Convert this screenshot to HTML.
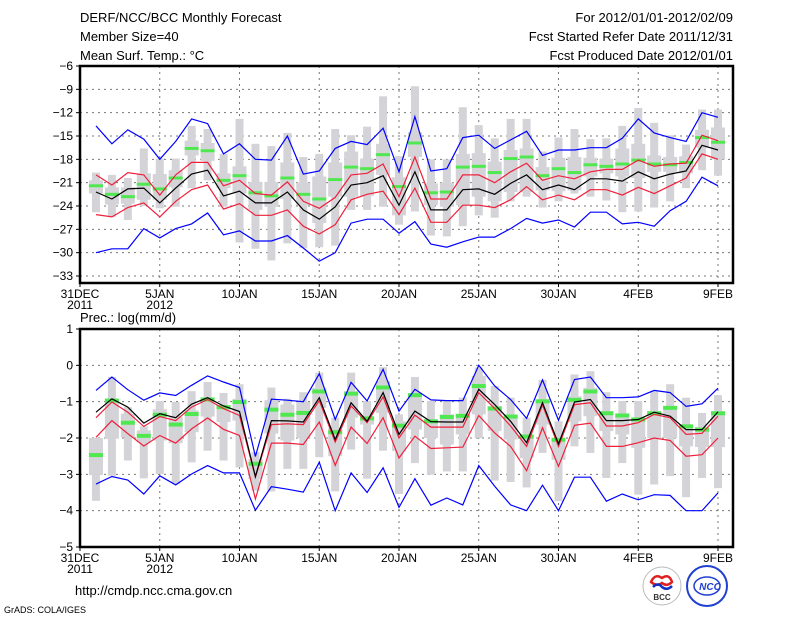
<!DOCTYPE html>
<html><head><meta charset="utf-8"><style>
html,body{margin:0;padding:0;background:#fff;}
svg{display:block;font-family:"Liberation Sans",sans-serif;}
</style></head><body>
<svg id="chart" width="800" height="618" viewBox="0 0 800 618" xmlns="http://www.w3.org/2000/svg">
<rect x="0" y="0" width="800" height="618" fill="#fff"/>
<g font-size="13" fill="#000">
<text x="80" y="22">DERF/NCC/BCC Monthly Forecast</text>
<text x="80" y="41">Member Size=40</text>
<text x="80" y="60">Mean Surf. Temp.: °C</text>
<text x="733" y="22" text-anchor="end">For 2012/01/01-2012/02/09</text>
<text x="733" y="41" text-anchor="end">Fcst Started Refer Date 2011/12/31</text>
<text x="733" y="60" text-anchor="end">Fcst Produced Date 2012/01/01</text>
<text x="80" y="322">Prec.: log(mm/d)</text>
</g>
<g id="top"></g>
<g id="bot"></g>
<text x="75" y="595" font-size="13">http://cmdp.ncc.cma.gov.cn</text>
<text x="4" y="613" font-size="9">GrADS: COLA/IGES</text>
<g>
<circle cx="662" cy="586" r="19" fill="#fff" stroke="#bbb" stroke-width="1"/>
<path d="M651 582 q4 -9 11 -4 q7 -5 10 4 q-5 5 -10 1 q-5 4 -11 -1z" fill="none" stroke="#e02020" stroke-width="2.5"/>
<path d="M653 587 q5 -5 9 0 q5 4 10 -1" fill="none" stroke="#1030c0" stroke-width="2.5"/>
<text x="662" y="600" font-size="8" text-anchor="middle" font-weight="bold" fill="#333">BCC</text>
</g>
<g>
<circle cx="707" cy="586" r="20" fill="#fff" stroke="#2040d0" stroke-width="2"/>
<ellipse cx="707" cy="586" rx="13" ry="9" fill="none" stroke="#2040d0" stroke-width="1.5"/>
<text x="710" y="590" font-size="10" text-anchor="middle" font-weight="bold" font-style="italic" fill="#2040d0">NCC</text>
</g>
</svg>
<script>
// ===== Temperature panel data (day 1 = Jan 1 ... day 40 = Feb 9) =====
const tBlueHi=[-13.7,-16.0,-14.2,-15.4,-18.0,-15.7,-12.8,-13.4,-17.3,-16.0,-18.0,-18.1,-15.0,-19.9,-19.5,-16.6,-15.7,-16.1,-14.0,-19.6,-12.5,-19.5,-19.2,-15.2,-14.9,-16.6,-15.5,-14.4,-17.5,-16.8,-16.8,-16.5,-16.5,-15.3,-12.8,-14.6,-15.2,-15.7,-12.0,-12.6];
const tBlueLo=[-30.0,-29.5,-29.5,-26.9,-28.1,-26.9,-26.3,-24.9,-27.7,-27.2,-28.5,-28.5,-27.8,-29.4,-31.1,-30.0,-26.2,-25.7,-25.7,-27.5,-26.0,-28.9,-29.3,-28.6,-28.0,-28.0,-26.9,-25.6,-26.2,-25.8,-26.7,-24.8,-24.8,-26.3,-26.1,-26.6,-24.6,-23.4,-20.3,-21.4];
const tRedHi=[-20.0,-21.3,-19.7,-20.0,-22.6,-20.0,-18.4,-18.4,-21.4,-20.7,-22.4,-22.6,-20.9,-23.4,-24.3,-22.9,-20.0,-19.8,-18.6,-22.8,-17.7,-23.1,-23.1,-20.0,-20.0,-21.0,-19.6,-18.5,-20.7,-20.1,-20.5,-19.6,-19.3,-19.3,-18.1,-18.9,-18.6,-18.5,-14.9,-15.6];
const tRedLo=[-25.1,-25.4,-24.2,-23.6,-25.4,-23.4,-21.9,-21.3,-24.4,-23.7,-25.2,-25.2,-24.5,-26.6,-27.6,-26.4,-23.2,-22.5,-22.1,-25.1,-21.7,-26.1,-26.1,-23.9,-23.9,-24.2,-23.2,-21.5,-23.2,-22.6,-23.2,-21.9,-21.9,-22.6,-21.6,-22.4,-21.4,-20.4,-17.3,-18.0];
const tMean=[-22.2,-23.1,-21.8,-21.7,-23.6,-21.7,-19.9,-19.4,-22.7,-22.1,-23.6,-23.6,-22.2,-24.5,-25.7,-24.1,-21.3,-21.0,-20.1,-23.9,-19.6,-24.5,-24.5,-21.9,-21.8,-22.5,-21.1,-20.0,-21.9,-21.3,-21.9,-20.5,-20.5,-20.8,-19.6,-20.5,-19.9,-19.5,-16.2,-16.8];
const tMedian=[-21.4,-22.5,-22.8,-21.2,-21.8,-20.4,-16.6,-16.9,-20.7,-20.1,-22.3,-22.7,-20.4,-22.5,-23.1,-20.6,-19.0,-19.2,-17.4,-21.5,-15.9,-22.3,-22.2,-19.0,-18.9,-19.7,-17.9,-17.7,-20.1,-19.2,-19.7,-18.7,-18.9,-18.6,-18.1,-18.6,-18.7,-18.4,-15.2,-15.8];
const tBoxHi=[-20.7,-21.6,-21.6,-19.8,-19.9,-19.4,-15.6,-15.9,-19.8,-18.9,-20.9,-20.9,-18.4,-21.0,-20.2,-18.4,-17.0,-17.9,-16.0,-20.3,-14.5,-21.1,-21.0,-17.3,-17.2,-18.3,-16.8,-16.6,-19.0,-17.8,-17.7,-17.8,-17.9,-16.6,-16.0,-17.5,-17.7,-17.6,-14.2,-13.9];
const tBoxLo=[-22.4,-23.8,-23.7,-23.2,-23.2,-21.6,-17.5,-18.2,-21.7,-22.4,-24.5,-24.1,-23.1,-23.9,-26.2,-22.8,-22.8,-22.7,-20.0,-25.2,-17.7,-23.9,-24.1,-23.9,-22.8,-23.4,-22.2,-22.2,-22.0,-22.1,-22.0,-20.2,-19.8,-20.2,-20.4,-19.6,-19.6,-19.8,-16.5,-18.0];
const tWhHi=[-19.7,-20.0,-20.4,-16.6,-17.9,-17.9,-13.7,-14.1,-17.3,-12.8,-16.0,-16.3,-14.6,-17.7,-17.3,-14.1,-14.9,-13.8,-9.9,-17.6,-8.6,-18.0,-18.0,-11.3,-13.6,-15.3,-12.8,-12.8,-17.0,-15.2,-14.1,-15.4,-15.3,-13.7,-11.4,-13.3,-14.9,-16.1,-11.6,-11.6];
const tWhLo=[-24.8,-25.4,-25.8,-24.0,-24.3,-24.1,-21.7,-20.7,-24.1,-28.7,-29.5,-31.0,-28.8,-29.4,-29.3,-29.1,-24.5,-24.5,-24.1,-26.4,-24.7,-27.8,-27.9,-26.6,-25.2,-25.5,-23.4,-22.8,-24.2,-23.4,-22.4,-22.8,-23.3,-24.8,-24.7,-24.2,-23.4,-21.7,-19.4,-20.1];
const tTicks=[-6,-9,-12,-15,-18,-21,-24,-27,-30,-33];

// ===== Precipitation panel data =====
const pBlueHi=[-0.69,-0.32,-0.67,-0.96,-0.76,-0.83,-0.55,-0.29,-0.46,-0.61,-2.51,-0.93,-0.96,-1.0,-0.23,-1.49,-0.47,-0.98,-0.11,-1.26,-0.66,-0.95,-0.97,-0.97,0.0,-0.57,-0.94,-1.46,-0.40,-1.51,-0.39,-0.32,-0.89,-0.89,-0.87,-0.69,-0.75,-1.13,-1.06,-0.63];
const pBlueLo=[-3.27,-3.06,-3.16,-3.54,-3.04,-3.29,-2.99,-2.76,-2.96,-2.96,-3.99,-3.34,-3.41,-3.49,-2.67,-4.0,-2.96,-3.5,-2.82,-3.91,-3.12,-3.85,-3.65,-3.84,-2.76,-3.33,-3.84,-4.0,-3.3,-4.0,-3.08,-3.08,-3.74,-3.54,-3.70,-3.56,-3.58,-4.0,-4.0,-3.51];
const pRedHi=[-1.44,-1.01,-1.29,-1.68,-1.41,-1.52,-1.15,-0.94,-1.19,-1.38,-3.08,-1.63,-1.61,-1.63,-0.97,-2.11,-1.12,-1.58,-0.87,-2.0,-1.37,-1.70,-1.70,-1.70,-0.75,-1.19,-1.67,-2.23,-1.09,-2.23,-1.08,-1.03,-1.67,-1.67,-1.58,-1.35,-1.44,-1.90,-1.87,-1.40];
const pRedLo=[-1.98,-1.52,-1.88,-2.22,-1.93,-2.14,-1.75,-1.45,-1.76,-1.93,-3.68,-2.14,-2.14,-2.18,-1.56,-2.75,-1.70,-2.15,-1.44,-2.55,-1.95,-2.29,-2.27,-2.25,-1.38,-1.86,-2.23,-2.9,-1.72,-2.78,-1.65,-1.59,-2.23,-2.23,-2.13,-2.0,-2.07,-2.50,-2.46,-2.0];
const pMean=[-1.29,-0.92,-1.15,-1.59,-1.33,-1.44,-1.07,-0.89,-1.12,-1.27,-3.06,-1.52,-1.53,-1.56,-0.89,-2.04,-1.03,-1.54,-0.75,-1.90,-1.26,-1.55,-1.56,-1.56,-0.66,-1.08,-1.54,-2.13,-1.03,-2.16,-1.01,-0.94,-1.52,-1.52,-1.49,-1.29,-1.40,-1.77,-1.77,-1.28];
const pMedian=[-2.47,-0.97,-1.58,-1.94,-1.36,-1.63,-1.34,-0.94,-1.15,-1.01,-2.71,-1.22,-1.36,-1.31,-0.72,-1.84,-0.78,-1.46,-0.61,-1.66,-0.82,-1.54,-1.42,-1.39,-0.57,-1.19,-1.41,-1.96,-0.99,-2.05,-0.95,-0.72,-1.32,-1.38,-1.49,-1.32,-1.17,-1.68,-1.77,-1.32];
const pBoxHi=[-2.0,-0.92,-1.33,-1.79,-1.21,-1.42,-1.24,-0.89,-1.10,-0.92,-2.58,-0.96,-1.08,-1.01,-0.62,-1.72,-0.71,-1.40,-0.43,-1.54,-0.80,-1.49,-1.35,-1.35,-0.29,-1.12,-1.40,-1.9,-0.94,-2.0,-0.85,-0.62,-1.26,-1.35,-1.44,-1.26,-1.12,-1.63,-1.70,-1.26];
const pBoxLo=[-3.02,-2.02,-1.98,-2.12,-2.07,-2.14,-1.84,-1.41,-1.56,-1.52,-3.13,-1.88,-2.07,-2.0,-1.17,-2.5,-1.44,-1.63,-1.31,-2.36,-1.77,-2.0,-2.18,-1.9,-1.35,-1.81,-2.04,-2.55,-1.63,-2.6,-1.54,-1.40,-1.81,-1.9,-2.27,-2.0,-2.0,-2.23,-2.25,-2.25];
const pWhHi=[-2.0,-0.32,-1.15,-1.68,-0.98,-1.01,-0.71,-0.46,-0.76,-0.52,-2.39,-0.61,-0.92,-0.74,-0.2,-1.44,-0.2,-0.98,-0.05,-1.35,-0.32,-0.98,-0.98,-0.89,-0.06,-0.57,-0.89,-1.44,-0.40,-1.54,-0.25,-0.16,-0.74,-0.98,-0.98,-0.71,-0.52,-0.89,-1.31,-0.82];
const pWhLo=[-3.73,-3.04,-2.62,-3.11,-2.99,-3.27,-2.67,-2.35,-2.62,-2.81,-3.45,-3.47,-2.85,-2.85,-2.53,-3.47,-2.32,-3.12,-2.35,-3.54,-2.69,-3.01,-2.92,-2.92,-2.0,-3.17,-3.21,-3.36,-2.41,-3.74,-2.23,-2.41,-3.10,-2.69,-3.56,-3.28,-3.05,-3.63,-3.10,-3.38];
const pTicks=[1,0,-1,-2,-3,-4,-5];

const xTickDays=[0,5,10,15,20,25,30,35,40];
const xTickLabels=["31DEC","5JAN","10JAN","15JAN","20JAN","25JAN","30JAN","4FEB","9FEB"];
const xYearLabels={0:"2011",5:"2012"};

const NS="http://www.w3.org/2000/svg";
const X0=80, X1=733, DAYPX=15.95;
function xScale(d){return X0+d*DAYPX;}
function mk(parent,tag,attrs){const e=document.createElementNS(NS,tag);for(const k in attrs)e.setAttribute(k,attrs[k]);parent.appendChild(e);return e;}

function panel(gid,cfg){
  const g=document.getElementById(gid);
  const yS=v=>cfg.yTop+(cfg.vTop-v)*(cfg.yBot-cfg.yTop)/(cfg.vTop-cfg.vBot);
  // grid
  for(const t of cfg.ticks){
    const y=yS(t);
    if(y>cfg.yTop+1&&y<cfg.yBot-1){
      const l=mk(g,'line',{x1:X0,x2:X1,y1:y,y2:y,stroke:'#777','stroke-width':1,'stroke-dasharray':'2,4'});
      
      
    }
    const tl=mk(g,'text',{x:X0-7,y:y+4,'font-size':12,'text-anchor':'end'});
    tl.textContent=(t<0?'\u2212':'')+Math.abs(t);
    
    
    mk(g,'line',{x1:X0-4,x2:X0,y1:y,y2:y,stroke:'#000','stroke-width':1});
  }
  xTickDays.forEach((d,i)=>{
    const x=xScale(d);
    if(d>0){
      const l=mk(g,'line',{x1:x,x2:x,y1:cfg.yTop,y2:cfg.yBot,stroke:'#777','stroke-width':1,'stroke-dasharray':'2,4'});
      
      
    }
    mk(g,'line',{x1:x,x2:x,y1:cfg.yBot,y2:cfg.yBot+4,stroke:'#000','stroke-width':1});
    const tl=mk(g,'text',{x:x,y:cfg.yBot+15,'font-size':12,'text-anchor':'middle'});
    tl.textContent=xTickLabels[i];
    
    
    if(xYearLabels[d]){
      const yl=mk(g,'text',{x:x,y:cfg.yBot+26,'font-size':12,'text-anchor':'middle'});
      yl.textContent=xYearLabels[d];
      
      
    }
  });
  // box plots
  for(let i=0;i<cfg.med.length;i++){
    const x=xScale(i+1);
    const w=mk(g,'rect',{x:x-4,width:8,y:yS(cfg.whHi[i]),height:yS(cfg.whLo[i])-yS(cfg.whHi[i]),fill:'#d4d4d8'});
    
    
    const b=mk(g,'rect',{x:x-7,width:14,y:yS(cfg.boxHi[i]),height:yS(cfg.boxLo[i])-yS(cfg.boxHi[i]),fill:'#d4d4d8'});
    
    
  }
  for(let i=0;i<cfg.med.length;i++){
    const x=xScale(i+1);
    const m=mk(g,'rect',{x:x-7,width:14,y:yS(cfg.med[i])-cfg.mh/2,height:cfg.mh,fill:'#50e850'});
    
    
  }
  const lines=[[cfg.blueLo,'#0000ff','min-line'],[cfg.blueHi,'#0000ff','max-line'],[cfg.redLo,'#f0203c','lower-spread-line'],[cfg.redHi,'#f0203c','upper-spread-line'],[cfg.mean,'#000','ensemble-mean-line']];
  for(const [arr,col,nm] of lines){
    const pts=arr.map((v,i)=>xScale(i+1).toFixed(1)+','+yS(v).toFixed(1)).join(' ');
    const p=mk(g,'polyline',{points:pts,fill:'none',stroke:col,'stroke-width':1.2});
    
    
  }
  const f=mk(g,'rect',{x:X0,y:cfg.yTop,width:X1-X0,height:cfg.yBot-cfg.yTop,fill:'none',stroke:'#000','stroke-width':2.5});
  
  
}

panel('top',{yTop:66,yBot:283,vTop:-6,vBot:-33.9,ticks:tTicks,mh:3,
  blueHi:tBlueHi,blueLo:tBlueLo,redHi:tRedHi,redLo:tRedLo,mean:tMean,med:tMedian,boxHi:tBoxHi,boxLo:tBoxLo,whHi:tWhHi,whLo:tWhLo});
panel('bot',{yTop:329,yBot:547,vTop:1,vBot:-5,ticks:pTicks,mh:4,
  blueHi:pBlueHi,blueLo:pBlueLo,redHi:pRedHi,redLo:pRedLo,mean:pMean,med:pMedian,boxHi:pBoxHi,boxLo:pBoxLo,whHi:pWhHi,whLo:pWhLo});
</script>
</body></html>
